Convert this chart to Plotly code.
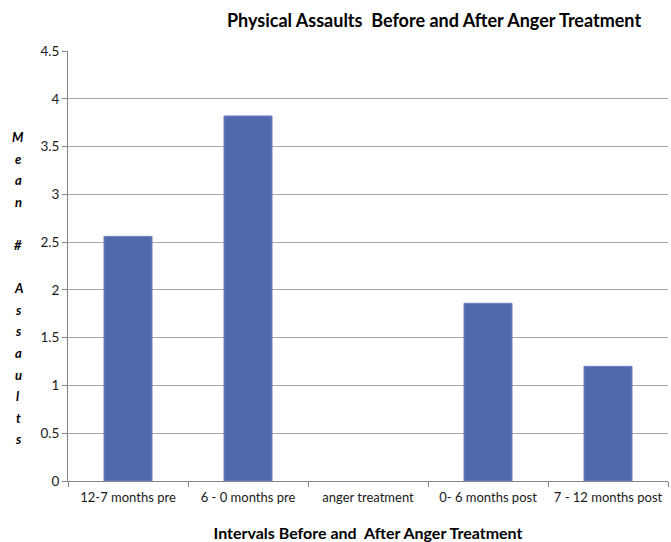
import plotly.graph_objects as go

categories = ["12-7 months pre", "6 - 0 months pre", "anger treatment",
              "0- 6 months post", "7 - 12 months post"]
mean_assaults = [2.56, 3.82, None, 1.86, 1.20]
y_ticks = [0, 0.5, 1, 1.5, 2, 2.5, 3, 3.5, 4, 4.5]
y_label_letters = ["M", "e", "a", "n", "", "#", "", "A", "s", "s", "a", "u", "l", "t", "s"]

W, H = 671, 542
M_L, M_R, M_T, M_B = 68, 3, 51, 61
plot_w = W - M_L - M_R
plot_h = H - M_T - M_B

fig = go.Figure(go.Bar(
    x=categories,
    y=mean_assaults,
    width=0.4,
    marker=dict(color="#5068AD", line=dict(color="#6C82C4", width=1)),
))

# vertical stacked-letter y-axis title, one annotation per letter
annotations = []
first_px, step_px = 137, 21.6
for i, ch in enumerate(y_label_letters):
    if not ch:
        continue
    py = first_px + i * step_px
    annotations.append(dict(
        text=f"<b><i>{ch}</i></b>",
        x=(18 - M_L) / plot_w, xref="paper", xanchor="center",
        y=1 - (py - M_T) / plot_h, yref="paper", yanchor="middle",
        showarrow=False, font=dict(family="Lato", size=13, color="#000000"),
    ))

fig.update_layout(
    width=W, height=H,
    margin=dict(l=M_L, r=M_R, t=M_T, b=M_B, autoexpand=False),
    paper_bgcolor="white", plot_bgcolor="white",
    showlegend=False,
    title=dict(text="<b>Physical Assaults  Before and After Anger Treatment</b>",
               x=434 / W, xanchor="center", y=1 - 21 / H, yanchor="middle",
               font=dict(family="Lato", size=18, color="#000000")),
    xaxis=dict(
        tickson="boundaries", ticks="outside", ticklen=5, tickcolor="#868686",
        showline=True, linecolor="#868686", linewidth=1,
        tickangle=0, automargin=False, ticklabelstandoff=4,
        tickfont=dict(family="Lato", size=13, color="#1a1a1a"),
        title=dict(text="<b>Intervals Before and  After Anger Treatment</b>",
                   font=dict(family="Lato", size=16, color="#000000"), standoff=24),
        range=[-0.5, 4.5],
    ),
    yaxis=dict(
        range=[0, 4.5], tickvals=y_ticks, ticktext=[f"{v:g}" for v in y_ticks],
        ticks="outside", ticklen=5, tickcolor="#868686",
        showline=True, linecolor="#868686", linewidth=1,
        showgrid=True, gridcolor="#A6A6A6", gridwidth=1,
        automargin=False,
        tickfont=dict(family="Lato", size=13.5, color="#1a1a1a"),
        zeroline=False,
    ),
    annotations=annotations,
    bargap=0.6,
)

fig.write_html("out.html")
